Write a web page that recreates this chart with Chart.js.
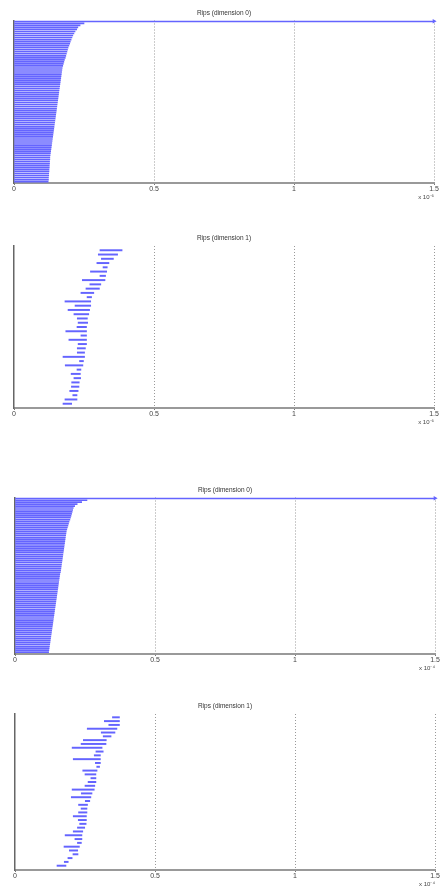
<!DOCTYPE html>
<html>
<head>
<meta charset="utf-8">
<script src="https://cdn.jsdelivr.net/npm/chart.js@4/dist/chart.umd.min.js"></script>
<style>
  html, body { margin: 0; padding: 0; background: #fff; }
  #wrap { position: relative; width: 440px; height: 886px; }
  canvas { position: absolute; left: 0; top: 0; }
</style>
</head>
<body>
<div id="wrap">
  <canvas id="c1" width="440" height="886"></canvas>
  <canvas id="c2" width="440" height="886"></canvas>
  <canvas id="c3" width="440" height="886"></canvas>
  <canvas id="c4" width="440" height="886"></canvas>
</div>
<script>
// barcode values (x axis in units of the exponent label)
const xTicks = [0, 0.5, 1, 1.5];
const tickLabels = ['0', '0.5', '1', '1.5'];
const titles = ['Rips (dimension 0)', 'Rips (dimension 1)', 'Rips (dimension 0)', 'Rips (dimension 1)'];
const expLabels = ['x 10\u207B\u2075', 'x 10\u207B\u2075', 'x 10\u207B\u2074', 'x 10\u207B\u2074'];

// dimension 0, first run: all bars born at 0, first one never dies
const deaths0a = [Infinity,
  0.250, 0.236, 0.228, 0.224, 0.218, 0.214, 0.210, 0.207, 0.204, 0.201,
  0.199, 0.196, 0.193, 0.191, 0.189, 0.187, 0.185, 0.183, 0.180, 0.178,
  0.176, 0.174, 0.172, 0.171, 0.170, 0.169, 0.168, 0.167, 0.166, 0.165,
  0.164, 0.163, 0.162, 0.161, 0.160, 0.159, 0.158, 0.157, 0.156, 0.155,
  0.154, 0.153, 0.152, 0.151, 0.150, 0.149, 0.148, 0.147, 0.146, 0.145,
  0.144, 0.143, 0.142, 0.141, 0.140, 0.139, 0.138, 0.137, 0.136, 0.135,
  0.134, 0.133, 0.132, 0.131, 0.130, 0.129, 0.128, 0.128, 0.127, 0.127,
  0.126, 0.126, 0.125, 0.125, 0.124, 0.124, 0.123, 0.123, 0.122];

// dimension 1, first run
const births1a = [0.307, 0.301, 0.312, 0.296, 0.318, 0.273, 0.307, 0.244, 0.271, 0.257,
  0.239, 0.261, 0.182, 0.218, 0.193, 0.214, 0.226, 0.229, 0.225, 0.185,
  0.239, 0.196, 0.229, 0.226, 0.226, 0.175, 0.234, 0.183, 0.225, 0.204,
  0.214, 0.206, 0.205, 0.199, 0.210, 0.182, 0.175];
const deaths1a = [0.386, 0.370, 0.355, 0.339, 0.333, 0.331, 0.327, 0.325, 0.310, 0.305,
  0.285, 0.277, 0.274, 0.274, 0.270, 0.267, 0.262, 0.263, 0.259, 0.259,
  0.259, 0.259, 0.259, 0.255, 0.252, 0.252, 0.248, 0.246, 0.239, 0.237,
  0.238, 0.233, 0.232, 0.229, 0.225, 0.225, 0.206];

// dimension 0, second run
const deaths0b = [Infinity,
  0.257, 0.238, 0.222, 0.213, 0.208, 0.206, 0.204, 0.202, 0.200, 0.198,
  0.196, 0.193, 0.191, 0.189, 0.187, 0.185, 0.183, 0.182, 0.181, 0.180,
  0.179, 0.178, 0.177, 0.176, 0.175, 0.174, 0.173, 0.172, 0.171, 0.170,
  0.169, 0.168, 0.167, 0.166, 0.165, 0.164, 0.163, 0.162, 0.160, 0.159,
  0.158, 0.157, 0.156, 0.155, 0.154, 0.153, 0.152, 0.151, 0.150, 0.149,
  0.148, 0.147, 0.146, 0.145, 0.144, 0.143, 0.142, 0.141, 0.140, 0.139,
  0.138, 0.137, 0.136, 0.135, 0.134, 0.133, 0.132, 0.131, 0.130, 0.129,
  0.128, 0.127, 0.126, 0.125, 0.124, 0.123, 0.122, 0.121, 0.120];

// dimension 1, second run
const births1b = [0.348, 0.319, 0.335, 0.258, 0.308, 0.315, 0.244, 0.236, 0.204, 0.289,
  0.283, 0.208, 0.287, 0.292, 0.242, 0.250, 0.271, 0.261, 0.250, 0.204,
  0.237, 0.201, 0.251, 0.227, 0.236, 0.227, 0.208, 0.226, 0.231, 0.223,
  0.208, 0.179, 0.214, 0.223, 0.175, 0.194, 0.207, 0.189, 0.176, 0.150];
const deaths1b = [0.373, 0.373, 0.373, 0.364, 0.357, 0.343, 0.326, 0.325, 0.311, 0.315,
  0.305, 0.305, 0.305, 0.302, 0.293, 0.289, 0.289, 0.289, 0.285, 0.283,
  0.275, 0.271, 0.267, 0.259, 0.257, 0.257, 0.255, 0.255, 0.254, 0.249,
  0.242, 0.239, 0.239, 0.237, 0.230, 0.224, 0.225, 0.204, 0.190, 0.182];

const X_MAX = 1.5;
const BAR = '#6464ff';
const FONT = '"Liberation Sans", Arial, sans-serif';
const AXIS_H = 18;

// plot boxes in page pixels
const panels = [
  { id: 'c1', births: null, deaths: deaths0a, thick: 1, top: 20.5, bottom: 183, left: 14, right: 434, ymin: -0.4, ymax: 79.7 },
  { id: 'c2', births: births1a, deaths: deaths1a, thick: 1.3, top: 246, bottom: 408, left: 14, right: 434, ymin: -1, ymax: 37 },
  { id: 'c3', births: null, deaths: deaths0b, thick: 1, top: 497.5, bottom: 654, left: 15, right: 435, ymin: -0.41, ymax: 80.0 },
  { id: 'c4', births: births1b, deaths: deaths1b, thick: 1.3, top: 714, bottom: 870, left: 15, right: 435, ymin: -0.87, ymax: 40.13 }
];

const titlePlugin = {
  id: 'panelTitle',
  afterDraw(chart, args, opts) {
    const { ctx, chartArea } = chart;
    ctx.save();
    ctx.font = '6.5px ' + FONT;
    ctx.fillStyle = '#333';
    ctx.textAlign = 'center';
    ctx.textBaseline = 'alphabetic';
    ctx.fillText(opts.text, (chartArea.left + chartArea.right) / 2, chartArea.top - 6);
    ctx.restore();
  }
};

function drawPanel(p, k) {
  const bars = [];
  const arrows = [];
  p.deaths.forEach((d, i) => {
    const b = p.births ? p.births[i] : 0;
    if (d === Infinity) {
      bars.push({ y: i, x: [b, X_MAX] });
      arrows.push({ x: X_MAX, y: i });
    } else {
      bars.push({ y: i, x: [b, d] });
    }
  });

  new Chart(document.getElementById(p.id), {
    type: 'bar',
    data: {
      datasets: [
        { data: bars, backgroundColor: BAR, borderWidth: 0, barThickness: p.thick },
        { type: 'scatter', data: arrows, pointStyle: 'triangle', rotation: 90,
          pointRadius: 2.6, backgroundColor: BAR, borderColor: BAR, borderWidth: 0, clip: false }
      ]
    },
    options: {
      responsive: false,
      animation: false,
      indexAxis: 'y',
      layout: { padding: { left: p.left, right: 440 - p.right, top: p.top, bottom: 886 - p.bottom - AXIS_H } },
      plugins: {
        legend: { display: false },
        tooltip: { enabled: false },
        panelTitle: { text: titles[k] }
      },
      scales: {
        x: {
          type: 'linear', min: 0, max: X_MAX,
          afterBuildTicks: s => { s.ticks = xTicks.map(v => ({ value: v })); },
          afterFit: s => { s.height = AXIS_H; },
          ticks: {
            callback: (v, i) => tickLabels[i],
            font: { size: 7, family: FONT }, color: '#444', padding: 0, maxRotation: 0
          },
          grid: {
            color: c => (c.tick && c.tick.value === 0) ? 'rgba(0,0,0,0)' : '#999',
            lineWidth: 1, tickLength: 2, tickColor: '#777'
          },
          border: { display: true, color: '#999', width: 2, dash: [1, 2] },
          title: { display: true, text: expLabels[k], align: 'end', color: '#444',
                   font: { size: 6, family: FONT }, padding: 0 }
        },
        y: {
          type: 'linear', reverse: true, min: p.ymin, max: p.ymax, offset: false,
          afterFit: s => { s.width = 0; },
          ticks: { display: false },
          grid: { display: false, offset: false },
          border: { display: true, color: '#666', width: 1.5 }
        }
      }
    },
    plugins: [titlePlugin]
  });
}

panels.forEach(drawPanel);
</script>
</body>
</html>
